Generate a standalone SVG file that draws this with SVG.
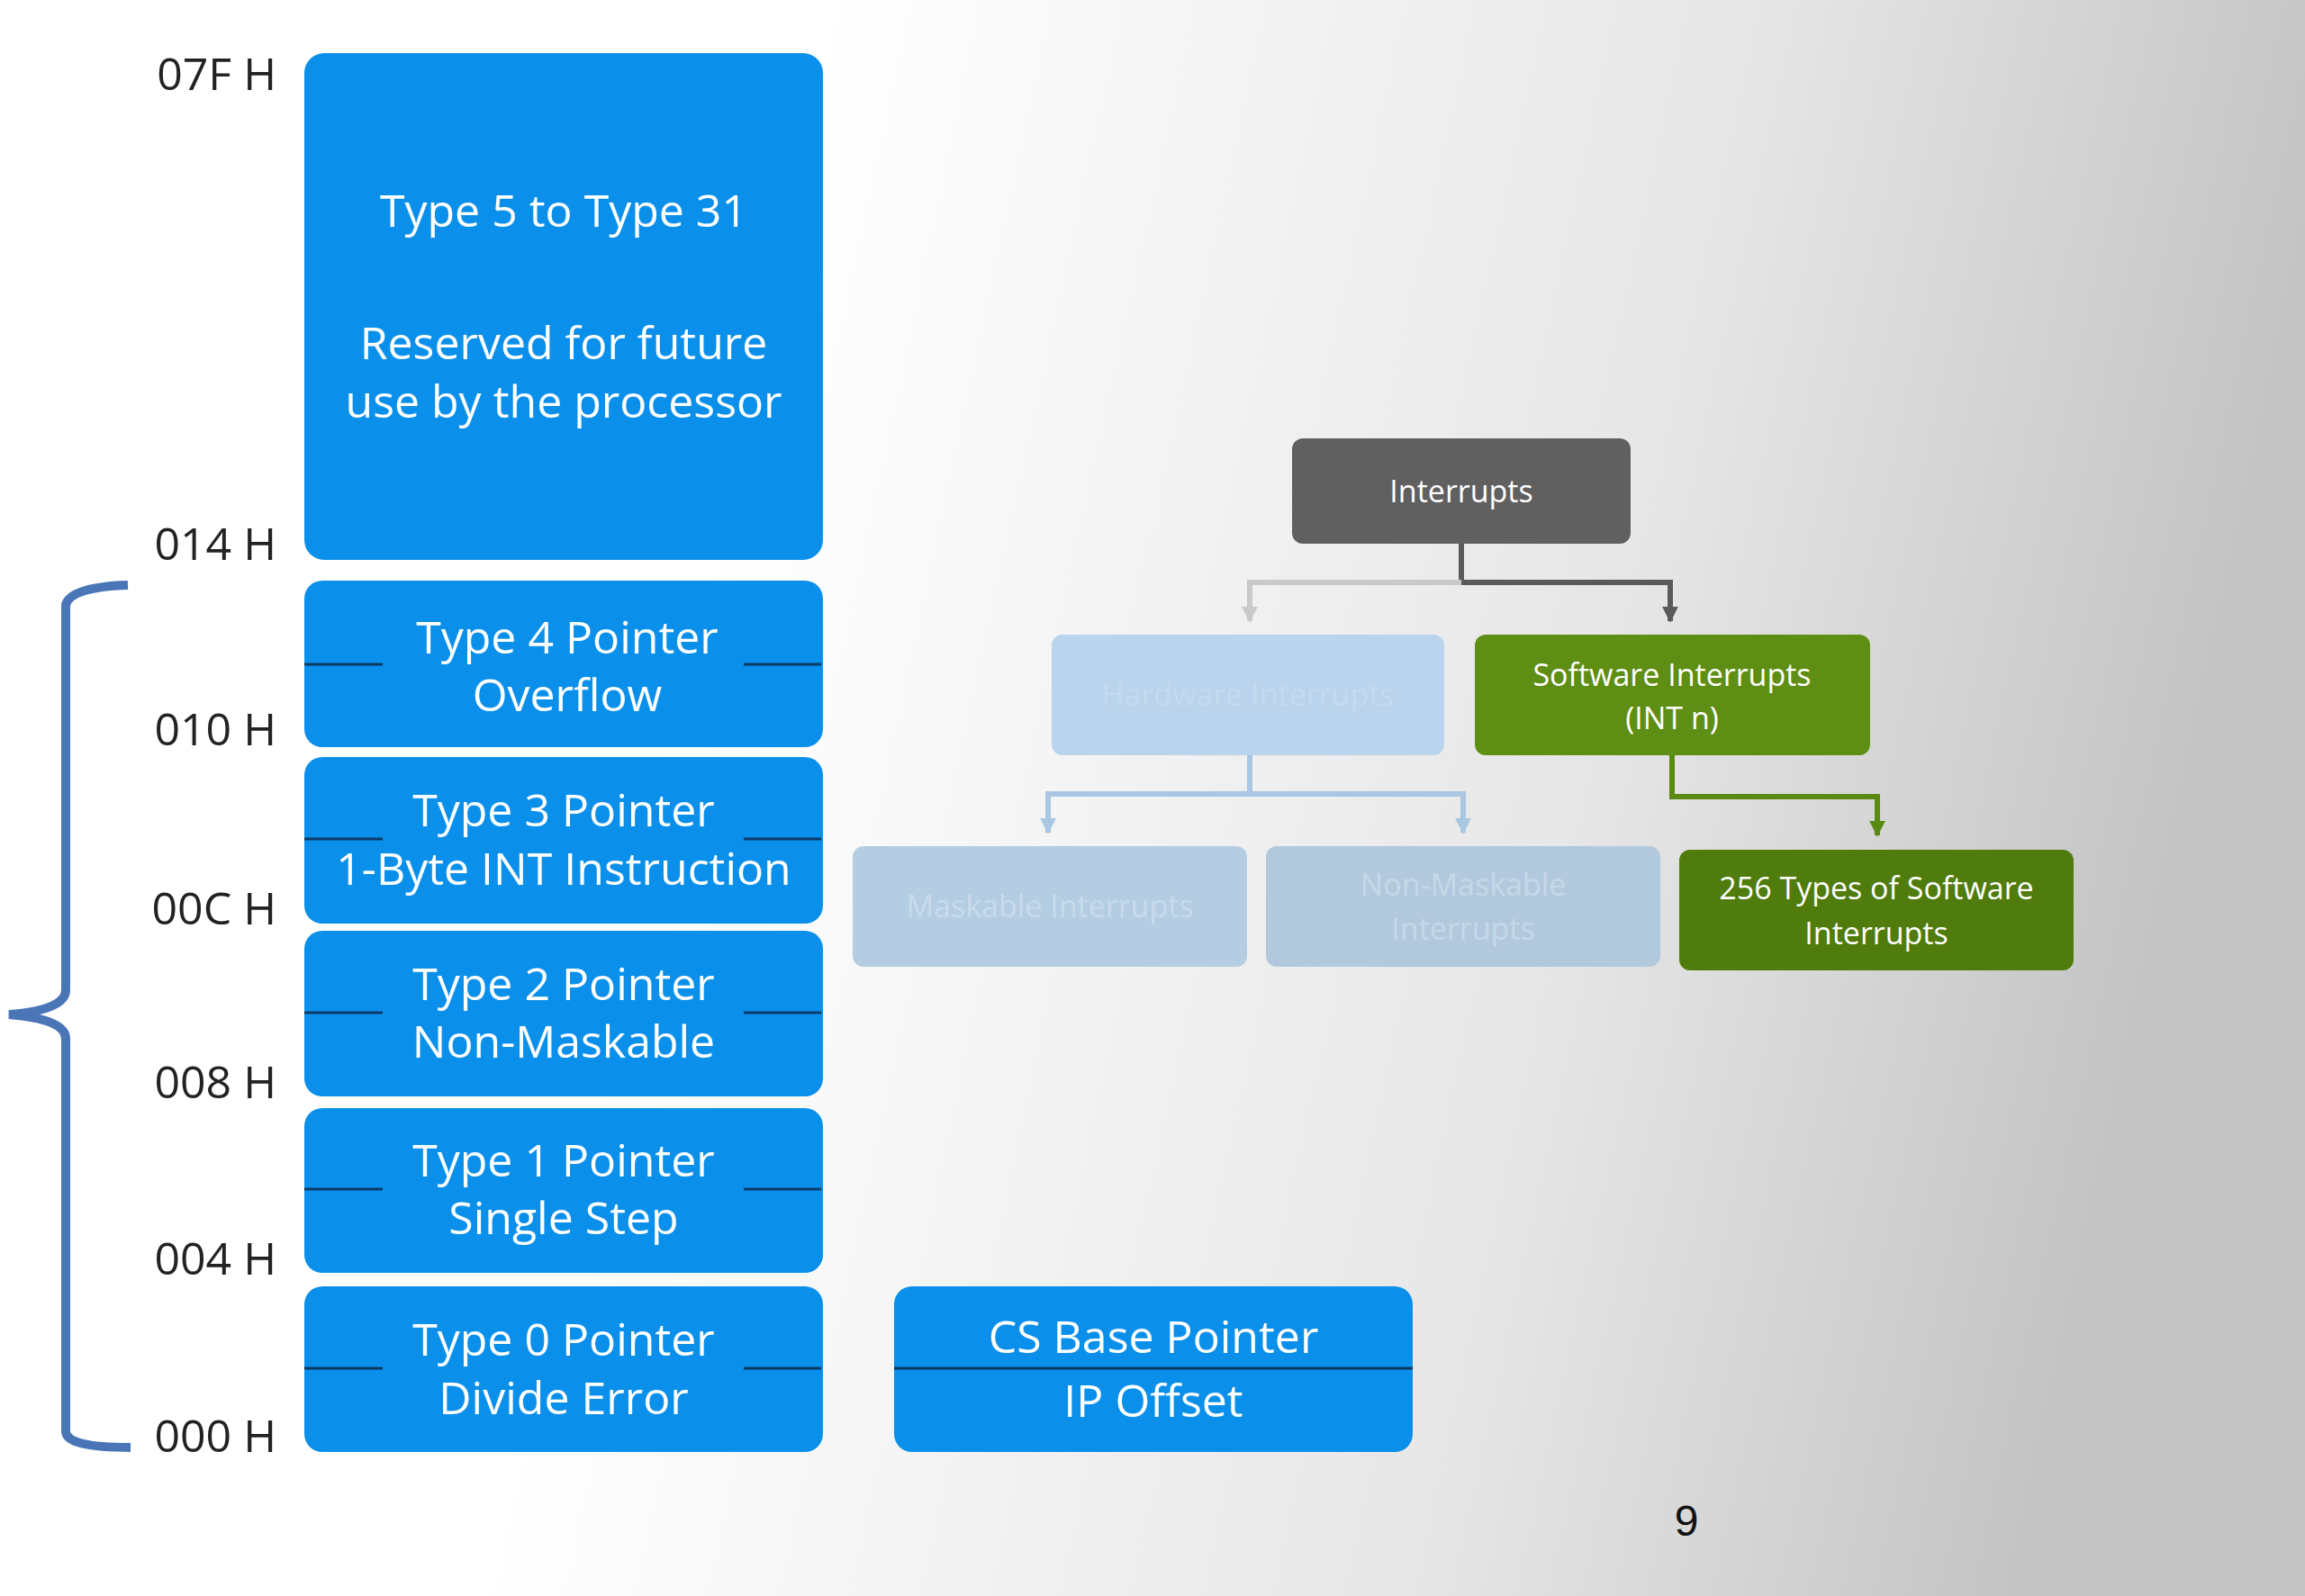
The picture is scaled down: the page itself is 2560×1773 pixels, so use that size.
<svg xmlns="http://www.w3.org/2000/svg" width="2560" height="1773" viewBox="0 0 2560 1773">
<defs>
<linearGradient id="bg" x1="0" y1="0" x2="1" y2="0.15">
<stop offset="0.35" stop-color="#ffffff"/><stop offset="0.75" stop-color="#e6e6e6"/><stop offset="1" stop-color="#c4c4c4"/>
</linearGradient>
<marker id="aG" markerWidth="6" markerHeight="6" refX="3" refY="5" orient="auto-start-reverse" markerUnits="userSpaceOnUse"><path d="M0,0 L6,0 L3,6 Z" fill="#c4c4c4"/></marker>
<marker id="aD" viewBox="0 0 10 10" markerWidth="18" markerHeight="18" refX="5" refY="9" orient="0" markerUnits="userSpaceOnUse"><path d="M0,0 L10,0 L5,10 Z" fill="#5a5a5a"/></marker>
<marker id="aL" viewBox="0 0 10 10" markerWidth="18" markerHeight="18" refX="5" refY="9" orient="0" markerUnits="userSpaceOnUse"><path d="M0,0 L10,0 L5,10 Z" fill="#c9c9c9"/></marker>
<marker id="aB" viewBox="0 0 10 10" markerWidth="18" markerHeight="18" refX="5" refY="9" orient="0" markerUnits="userSpaceOnUse"><path d="M0,0 L10,0 L5,10 Z" fill="#a9c6e2"/></marker>
<marker id="aV" viewBox="0 0 10 10" markerWidth="18" markerHeight="18" refX="5" refY="9" orient="0" markerUnits="userSpaceOnUse"><path d="M0,0 L10,0 L5,10 Z" fill="#5a8a10"/></marker>
</defs>
<style>
.mem{fill:#0a90ea}
.wt{fill:#ffffff;font-family:"Open Sans","Liberation Sans",sans-serif;text-anchor:middle}
.big{font-size:50px}
.addr{fill:#222;font-family:"Open Sans","Liberation Sans",sans-serif;font-size:50px;text-anchor:end}
.sep{stroke:#0b3a66;stroke-width:3}
.sm{font-size:34px}
</style>
<rect width="2560" height="1773" fill="url(#bg)"/>
<g id="connectors" fill="none" stroke-width="6">
<path d="M1623,604 V647 H1855 V690" stroke="#5a5a5a" marker-end="url(#aD)"/>
<path d="M1623,647 H1388 V690" stroke="#c9c9c9" marker-end="url(#aL)"/>
<path d="M1388,839 V882 H1164 V925" stroke="#a9c6e2" marker-end="url(#aB)"/>
<path d="M1388,882 H1625 V925" stroke="#a9c6e2" marker-end="url(#aB)"/>
<path d="M1857,839 V885 H2085 V928" stroke="#5a8a10" marker-end="url(#aV)"/>
</g>
<g id="brace"><path d="M142,650 Q78,652 73,672 V1100 Q73,1122 10,1127 Q73,1132 73,1154 V1590 Q73,1608 145,1608" fill="none" stroke="#4a76b8" stroke-width="10"/></g>
<g id="addresses">
<text class="addr" x="307" y="100">07F H</text>
<text class="addr" x="307" y="622">014 H</text>
<text class="addr" x="307" y="828">010 H</text>
<text class="addr" x="307" y="1027">00C H</text>
<text class="addr" x="307" y="1220">008 H</text>
<text class="addr" x="307" y="1416">004 H</text>
<text class="addr" x="307" y="1613">000 H</text>
</g>
<g id="type5"><rect class="mem" x="338" y="59" width="576" height="563" rx="22"/>
<text class="wt big" x="626" y="252">Type 5 to Type 31</text>
<text class="wt big" x="626" y="399">Reserved for future</text>
<text class="wt big" x="626" y="464">use by the processor</text></g>
<g id="type4"><rect class="mem" x="338" y="645" width="576" height="185" rx="20"/>
<line class="sep" x1="338" y1="738" x2="425" y2="738"/><line class="sep" x1="826" y1="738" x2="912" y2="738"/>
<text class="wt big" x="630" y="726">Type 4 Pointer</text><text class="wt big" x="630" y="790">Overflow</text></g>
<g id="type3"><rect class="mem" x="338" y="841" width="576" height="185" rx="20"/>
<line class="sep" x1="338" y1="932" x2="425" y2="932"/><line class="sep" x1="826" y1="932" x2="912" y2="932"/>
<text class="wt big" x="626" y="918">Type 3 Pointer</text><text class="wt big" x="626" y="983">1-Byte INT Instruction</text></g>
<g id="type2"><rect class="mem" x="338" y="1034" width="576" height="184" rx="20"/>
<line class="sep" x1="338" y1="1125" x2="425" y2="1125"/><line class="sep" x1="826" y1="1125" x2="912" y2="1125"/>
<text class="wt big" x="626" y="1111">Type 2 Pointer</text><text class="wt big" x="626" y="1175">Non-Maskable</text></g>
<g id="type1"><rect class="mem" x="338" y="1231" width="576" height="183" rx="20"/>
<line class="sep" x1="338" y1="1321" x2="425" y2="1321"/><line class="sep" x1="826" y1="1321" x2="912" y2="1321"/>
<text class="wt big" x="626" y="1307">Type 1 Pointer</text><text class="wt big" x="626" y="1371">Single Step</text></g>
<g id="type0"><rect class="mem" x="338" y="1429" width="576" height="184" rx="20"/>
<line class="sep" x1="338" y1="1520" x2="425" y2="1520"/><line class="sep" x1="826" y1="1520" x2="912" y2="1520"/>
<text class="wt big" x="626" y="1506">Type 0 Pointer</text><text class="wt big" x="626" y="1571">Divide Error</text></g>
<g id="cs"><rect class="mem" x="993" y="1429" width="576" height="184" rx="20"/>
<line class="sep" x1="993" y1="1520" x2="1569" y2="1520"/>
<text class="wt big" x="1281" y="1503">CS Base Pointer</text><text class="wt big" x="1281" y="1574">IP Offset</text></g>
<g id="interrupts"><rect x="1435" y="487" width="376" height="117" rx="12" fill="#606060"/>
<text class="wt sm" x="1623" y="558">Interrupts</text></g>
<g id="hardware"><rect x="1168" y="705" width="436" height="134" rx="12" fill="#b9d4ec"/>
<text class="wt sm" x="1386" y="784" fill-opacity="0.5" style="fill:#d0e2f2">Hardware Interrupts</text></g>
<g id="software"><rect x="1638" y="705" width="439" height="134" rx="12" fill="#5f8e15"/>
<text class="wt sm" x="1857" y="762">Software Interrupts</text><text class="wt sm" x="1857" y="810">(INT n)</text></g>
<g id="maskable"><rect x="947" y="940" width="438" height="134" rx="12" fill="#b5cde2"/>
<text class="wt sm" x="1166" y="1019" style="fill:#c8dbec">Maskable Interrupts</text></g>
<g id="nonmaskable"><rect x="1406" y="940" width="438" height="134" rx="12" fill="#b2c9dd"/>
<text class="wt sm" x="1625" y="995" style="fill:#c6d8e8">Non-Maskable</text><text class="wt sm" x="1625" y="1044" style="fill:#c6d8e8">Interrupts</text></g>
<g id="types256"><rect x="1865" y="944" width="438" height="134" rx="12" fill="#4f7c0c"/>
<text class="wt sm" x="2084" y="999">256 Types of Software</text><text class="wt sm" x="2084" y="1049">Interrupts</text></g>
<text x="1873" y="1706" font-family="Liberation Sans, sans-serif" font-size="48" fill="#111" text-anchor="middle">9</text>
</svg>
